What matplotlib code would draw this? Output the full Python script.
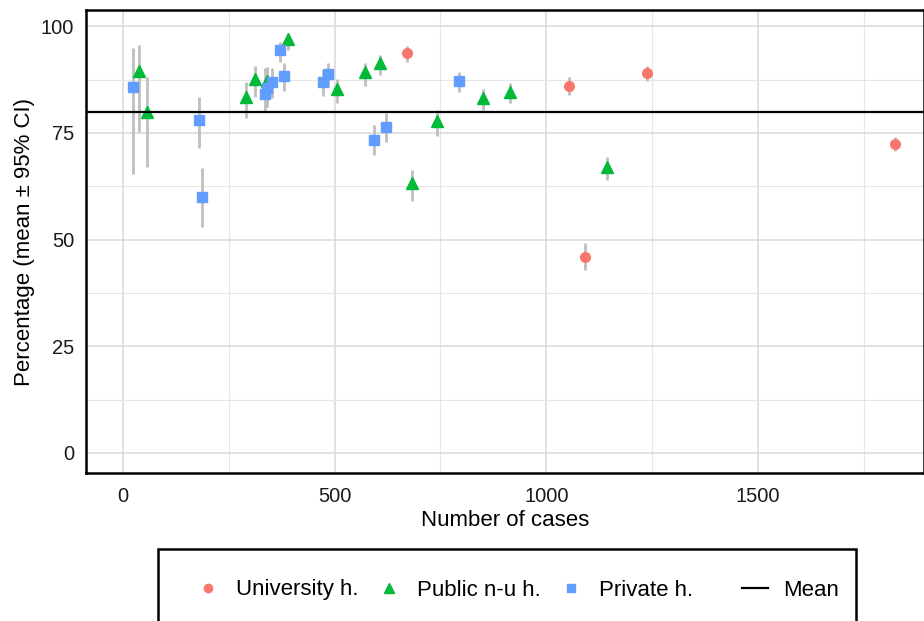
import numpy as np
import matplotlib
matplotlib.use("Agg")
from matplotlib import pyplot as plt
from matplotlib.lines import Line2D
from matplotlib.patches import Rectangle

plt.rcParams['font.family'] = ['Liberation Sans', 'DejaVu Sans']

# University hospitals
uni_n = [672, 1054, 1238, 1091, 1824]
uni_mean = [93.7, 86.1, 89.1, 45.9, 72.4]
uni_lo = [91.6, 83.8, 87.2, 42.9, 70.7]
uni_hi = [95.3, 88.0, 90.6, 49.2, 74.0]

# Public non-university hospitals
pub_n = [38, 56, 291, 312, 340, 389, 505, 572, 607, 684, 742, 850, 914, 1143]
pub_mean = [89.5, 79.9, 83.3, 87.7, 87.1, 97.1, 85.4, 89.2, 91.4, 63.2, 77.8, 83.1, 84.6, 67.0]
pub_lo = [75.3, 67.1, 78.4, 83.3, 82.0, 94.5, 81.9, 86.0, 88.5, 59.1, 74.2, 80.3, 81.9, 63.9]
pub_hi = [95.7, 88.1, 87.0, 90.6, 90.5, 98.5, 87.7, 91.3, 93.2, 66.3, 80.3, 85.2, 86.6, 69.4]

# Private hospitals
priv_n = [23, 179, 187, 335, 341, 353, 372, 380, 472, 484, 593, 621, 794]
priv_mean = [85.8, 78.1, 60.0, 84.2, 85.6, 87.0, 94.5, 88.3, 87.0, 88.7, 73.3, 76.4, 87.1]
priv_lo = [65.3, 71.5, 52.9, 79.9, 81.0, 83.1, 91.6, 84.8, 83.7, 85.8, 69.8, 72.9, 84.6]
priv_hi = [94.9, 83.4, 66.7, 90.3, 90.0, 90.1, 96.3, 91.3, 89.7, 91.3, 76.8, 79.6, 89.3]

overall_mean = 80

groups = [
    ("University h.", uni_n, uni_mean, uni_lo, uni_hi, "#F8766D", "o", 7),
    ("Public n-u h.", pub_n, pub_mean, pub_lo, pub_hi, "#00BA38", "^", 9),
    ("Private h.", priv_n, priv_mean, priv_lo, priv_hi, "#619CFF", "s", 7.5),
]

fig = plt.figure(figsize=(9.24, 6.21), dpi=100)
ax = fig.add_axes([86 / 924, 1 - 473 / 621, 1 - 86 / 924, (473 - 10) / 621])

for label, n, m, lo, hi, col, mk, ms in groups:
    ax.vlines(n, lo, hi, color="#bfbfbf", lw=2, zorder=2)
for label, n, m, lo, hi, col, mk, ms in groups:
    ax.plot(n, m, ls="none", marker=mk, ms=ms, color=col, mec=col, zorder=3)

ax.axhline(overall_mean, color="black", lw=1.6, zorder=4)

ax.set_xlim(-87, 1892)
ax.set_ylim(-4.7, 103.8)
ax.set_xticks([0, 500, 1000, 1500])
ax.set_yticks([0, 25, 50, 75, 100])
ax.set_xticks([250, 750, 1250, 1750], minor=True)
ax.set_yticks([12.5, 37.5, 62.5, 87.5], minor=True)
ax.grid(True, which="major", color="#d9d9d9", lw=1.1)
ax.grid(True, which="minor", color="#e6e6e6", lw=0.8)
ax.set_axisbelow(True)
ax.tick_params(which="both", length=0, labelsize=14.5, labelcolor="#1a1a1a")
ax.tick_params(axis="y", pad=8.5)
ax.tick_params(axis="x", pad=10)
for sp in ax.spines.values():
    sp.set_linewidth(1.8)
    sp.set_color("black")

ax.set_xlabel("Number of cases", fontsize=16, labelpad=3)
ax.set_ylabel("Percentage (mean \u00b1 95% CI)", fontsize=16, labelpad=4)

# legend: hospital types and mean line side by side in one frame
leg_y = 1 - 590 / 621
point_handles = [
    Line2D([], [], ls="none", marker="o", ms=6, color="#F8766D"),
    Line2D([], [], ls="none", marker="^", ms=7, color="#00BA38"),
    Line2D([], [], ls="none", marker="s", ms=6.3, color="#619CFF"),
]
leg_kw = dict(loc="center left", fontsize=16, frameon=False, borderpad=0,
              borderaxespad=0, handlelength=1.17, handletextpad=0.68,
              columnspacing=0.77)
fig.legend(point_handles, ["University h.", "Public n-u h.", "Private h."],
           bbox_to_anchor=(195 / 924, leg_y), ncol=3, **leg_kw)
fig.legend([Line2D([], [], color="black", lw=1.6)], ["Mean"],
           bbox_to_anchor=(742 / 924, leg_y), ncol=1, **leg_kw)
fig.add_artist(Rectangle((158 / 924, -0.1), (856 - 158) / 924, 0.1 + (621 - 549) / 621,
                         transform=fig.transFigure, fill=False, ec="black", lw=1.8))

fig.savefig("out.png", dpi=100)
